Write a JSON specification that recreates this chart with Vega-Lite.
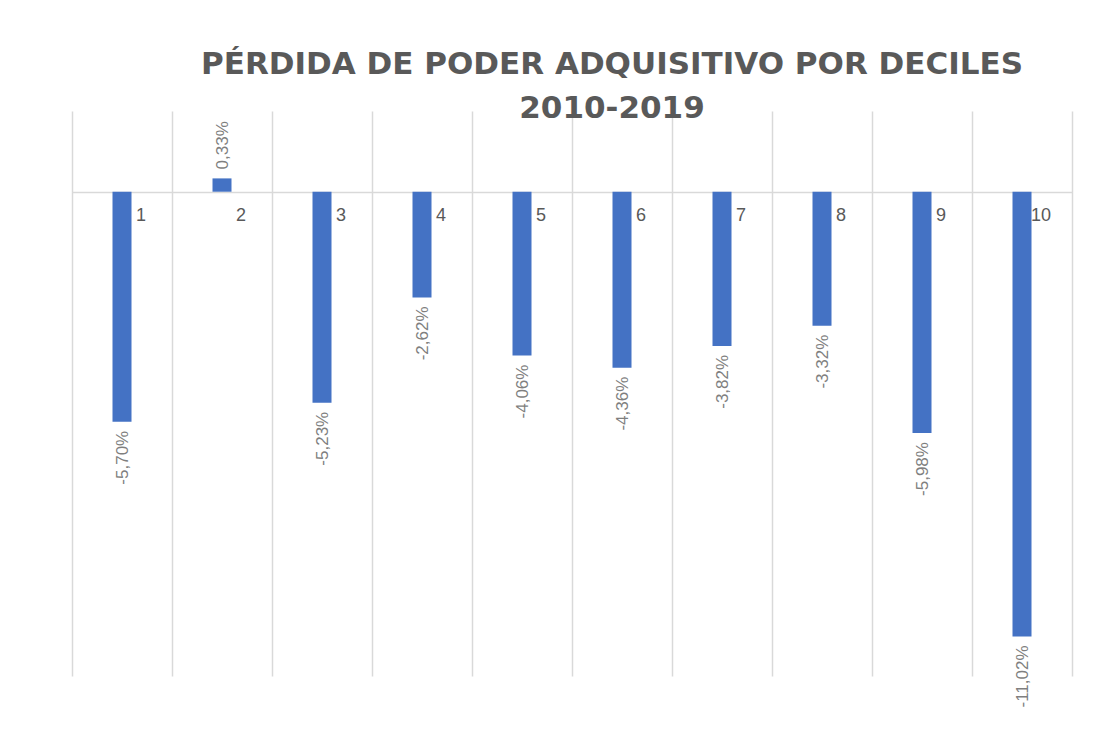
{
  "$schema": "https://vega.github.io/schema/vega-lite/v6.json",
  "width": 1000,
  "height": 565,
  "autosize": {"type": "none"},
  "padding": {"left": 72, "top": 111, "right": 36, "bottom": 64},
  "background": "white",
  "title": {
    "text": ["PÉRDIDA DE PODER ADQUISITIVO POR DECILES", "2010-2019"],
    "anchor": "middle",
    "frame": "group",
    "dx": 40,
    "offset": -38,
    "baseline": "alphabetic",
    "lineHeight": 44,
    "font": "DejaVu Sans",
    "fontSize": 31,
    "fontWeight": "bold",
    "color": "#595959"
  },
  "data": {
    "values": [
      {"decil": "1", "v": -0.0570},
      {"decil": "2", "v": 0.0033},
      {"decil": "3", "v": -0.0523},
      {"decil": "4", "v": -0.0262},
      {"decil": "5", "v": -0.0406},
      {"decil": "6", "v": -0.0436},
      {"decil": "7", "v": -0.0382},
      {"decil": "8", "v": -0.0332},
      {"decil": "9", "v": -0.0598},
      {"decil": "10", "v": -0.1102}
    ]
  },
  "encoding": {
    "x": {
      "field": "decil",
      "type": "nominal",
      "sort": null,
      "scale": {"paddingInner": 0, "paddingOuter": 0},
      "axis": {
        "title": null,
        "labels": false,
        "ticks": false,
        "domain": false,
        "grid": true,
        "tickBand": "extent",
        "gridColor": "#d9d9d9",
        "gridWidth": 1.5
      }
    }
  },
  "layer": [
    {
      "mark": {"type": "bar", "size": 19, "color": "#4472c4"},
      "encoding": {
        "y": {
          "field": "v",
          "type": "quantitative",
          "scale": {"domain": [-0.12, 0.02], "nice": false, "zero": true},
          "axis": {
            "title": null,
            "labels": false,
            "ticks": false,
            "domain": false,
            "grid": true,
            "values": [0],
            "gridColor": "#d9d9d9",
            "gridWidth": 1.5
          }
        }
      }
    },
    {
      "transform": [{"filter": "datum.v < 0"}],
      "mark": {"type": "text", "angle": 270, "align": "right", "baseline": "middle", "dx": -9, "dy": 1, "font": "Liberation Sans", "fontSize": 17, "color": "#7f7f7f"},
      "encoding": {
        "y": {"field": "v", "type": "quantitative"},
        "text": {"field": "v", "type": "quantitative", "format": ".2%"}
      }
    },
    {
      "transform": [{"filter": "datum.v >= 0"}],
      "mark": {"type": "text", "angle": 270, "align": "left", "baseline": "middle", "dx": 9, "dy": 1, "font": "Liberation Sans", "fontSize": 17, "color": "#7f7f7f"},
      "encoding": {
        "y": {"field": "v", "type": "quantitative"},
        "text": {"field": "v", "type": "quantitative", "format": ".2%"}
      }
    },
    {
      "mark": {"type": "text", "align": "center", "baseline": "middle", "dx": 19, "dy": 24, "font": "Liberation Sans", "fontSize": 18, "color": "#595959"},
      "encoding": {
        "y": {"datum": 0, "type": "quantitative"},
        "text": {"field": "decil", "type": "nominal"}
      }
    }
  ],
  "config": {
    "view": {"stroke": null},
    "locale": {
      "number": {"decimal": ",", "thousands": ".", "grouping": [3], "currency": ["", " €"], "minus": "-"}
    }
  }
}
